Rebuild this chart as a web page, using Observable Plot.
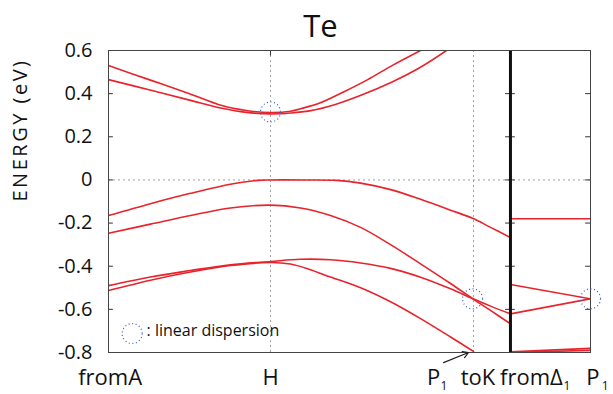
<!DOCTYPE html>
<html>
<head>
<meta charset="utf-8">
<script src="https://cdn.jsdelivr.net/npm/d3@7"></script>
<script src="https://cdn.jsdelivr.net/npm/@observablehq/plot@0.6"></script>
<style>
  html, body { margin: 0; padding: 0; background: #fff; }
  #chart { width: 613px; height: 394px; }
</style>
</head>
<body>
<div id="chart"></div>
<script>
// k-path positions (H = 1)
const kA = 0, kH = 1, kP1 = 2.253, kK = 2.481, kEnd = 2.975;

// Energy ticks
const yTicks = [-0.8, -0.6, -0.4, -0.2, 0, 0.2, 0.4, 0.6];

// x labels (text, k position, anchor)
const xLabelText   = ["fromA", "H", "P", "toK", "fromΔ", "P"];
const xLabelPos    = [0.01, 1, 2.006, 2.28, 2.417, 2.99];
const xLabelAnchor = ["middle", "middle", "middle", "middle", "start", "middle"];
const xSubText = ["1", "1", "1"];
const xSubPos  = [2.07, 2.83, 3.065];

// Bands, A -> H -> P1 -> K  ([k, E(eV)])
const cbUpper = [[0,0.53],[0.25,0.465],[0.5,0.4],[0.7,0.345],[0.85,0.322],[1,0.312],[1.123,0.318],[1.185,0.33],[1.30,0.355],[1.457,0.41],[1.60,0.465],[1.75,0.53],[1.926,0.60]];
const cbLower = [[0,0.465],[0.25,0.418],[0.5,0.37],[0.7,0.332],[0.85,0.313],[1,0.306],[1.123,0.31],[1.241,0.32],[1.40,0.35],[1.55,0.39],[1.747,0.453],[1.92,0.52],[2.086,0.60]];
const vb1 = [[0,-0.165],[0.259,-0.11],[0.506,-0.062],[0.753,-0.02],[0.92,-0.002],[1,0],[1.2,0],[1.407,-0.002],[1.556,-0.015],[1.741,-0.045],[1.926,-0.09],[2.111,-0.14],[2.247,-0.178],[2.358,-0.22],[2.481,-0.267]];
const vb2 = [[0,-0.247],[0.259,-0.205],[0.506,-0.165],[0.753,-0.13],[1,-0.117],[1.185,-0.13],[1.37,-0.165],[1.556,-0.22],[1.741,-0.30],[1.926,-0.389],[2.111,-0.48],[2.247,-0.55],[2.358,-0.605],[2.481,-0.667]];
const vb3 = [[0,-0.49],[0.259,-0.45],[0.506,-0.42],[0.753,-0.393],[1,-0.378],[1.185,-0.368],[1.37,-0.37],[1.556,-0.385],[1.741,-0.41],[1.926,-0.451],[2.111,-0.505],[2.247,-0.55],[2.358,-0.585],[2.481,-0.621]];
const vb4 = [[0,-0.513],[0.259,-0.465],[0.506,-0.427],[0.753,-0.397],[1,-0.383],[1.123,-0.39],[1.241,-0.415],[1.37,-0.45],[1.556,-0.5],[1.741,-0.565],[1.926,-0.643],[2.111,-0.728],[2.253,-0.795]];

// Bands, Δ -> P1 panel
const dFlat  = [[2.481,-0.18],[2.975,-0.18]];
const dDown  = [[2.481,-0.485],[2.975,-0.551]];
const dUp    = [[2.481,-0.621],[2.975,-0.551]];
const dLow1  = [[2.481,-0.797],[2.975,-0.781]];
const dLow2  = [[2.481,-0.80],[2.975,-0.79]];

// linear-dispersion markers
const circleK = [1, 2.247, 2.975];
const circleE = [0.315, -0.551, -0.551];

// legend
const legendK = 0.146, legendE = -0.712, legendTextK = 0.235, legendTextE = -0.698;
const legendText = ": linear dispersion";

// arrow to P1
const arrowFrom = [2.068, -0.847], arrowTo = [2.222, -0.80];

const bandsLeft = [cbUpper, cbLower, vb1, vb2, vb3, vb4];
const bandsRight = [dFlat, dDown, dUp, dLow1, dLow2];
const table = [...bandsLeft, ...bandsRight].flatMap((pts, i) => pts.map(([k, e]) => ({band: i, k, e})));
const circles = circleK.map((k, i) => ({k, e: circleE[i]}));
const xLabels = xLabelText.map((t, i) => ({t, k: xLabelPos[i], a: xLabelAnchor[i]}));
const xSubs = xSubText.map((t, i) => ({t, k: xSubPos[i]}));
const fmt = d => d === 0 ? "0" : d.toFixed(1);

const red = "#e8232b";
const labelStyle = {frameAnchor: "bottom", lineAnchor: "bottom", dy: 32, fontSize: 22, fill: "#111"};

const plot = Plot.plot({
  width: 613,
  height: 394,
  marginLeft: 108,
  marginRight: 23,
  marginTop: 50,
  marginBottom: 42,
  style: {fontFamily: "'Open Sans', sans-serif", background: "#fff", color: "#111"},
  x: {domain: [kA, kEnd], axis: null},
  y: {domain: [-0.8, 0.6], axis: null},
  marks: [
    // grid
    Plot.ruleY([0], {stroke: "#888", strokeDasharray: "2,3", strokeWidth: 0.8}),
    Plot.ruleX([kH, kP1], {stroke: "#888", strokeDasharray: "2,3", strokeWidth: 0.8}),
    // inward ticks
    Plot.ruleY(yTicks, {x1: kA, x2: kA + 0.03, stroke: "#333"}),
    Plot.ruleY(yTicks, {x1: kK - 0.03, x2: kK + 0.03, stroke: "#333"}),
    Plot.ruleY(yTicks, {x1: kEnd - 0.03, x2: kEnd, stroke: "#333"}),
    Plot.ruleX([kH], {y1: 0.6, y2: 0.575, stroke: "#333"}),
    // bands
    Plot.line(table, {x: "k", y: "e", z: "band", stroke: red, strokeWidth: 1.6, curve: "catmull-rom", clip: true}),
    // thick separator
    Plot.ruleX([kK], {stroke: "#111", strokeWidth: 3}),
    Plot.frame({stroke: "#444", strokeWidth: 1}),
    // circles
    Plot.dot(circles, {x: "k", y: "e", r: 10, stroke: "#3a5fc8", strokeWidth: 1.2, strokeDasharray: "1,2.6", fill: "none"}),
    // legend
    Plot.dot([0], {x: () => legendK, y: () => legendE, r: 10, stroke: "#3a5fc8", strokeWidth: 1.2, strokeDasharray: "1,2.6", fill: "none"}),
    Plot.text([legendText], {x: () => legendTextK, y: () => legendTextE, text: d => d, textAnchor: "start", fontSize: 16, fill: "#111"}),
    // arrow
    Plot.arrow([0], {x1: () => arrowFrom[0], y1: () => arrowFrom[1], x2: () => arrowTo[0], y2: () => arrowTo[1], stroke: "#222", strokeWidth: 1.2, headLength: 8, clip: false}),
    // y tick labels
    Plot.text(yTicks, {x: () => kA, y: d => d, text: fmt, textAnchor: "end", dx: -16, fontSize: 20, fill: "#111"}),
    // y axis title
    Plot.text(["ENERGY (eV)"], {frameAnchor: "left", dx: -88, rotate: -90, fontSize: 20, fill: "#111"}),
    // x labels
    Plot.text(xLabels.filter(d => d.a === "middle"), {x: "k", text: "t", textAnchor: "middle", ...labelStyle}),
    Plot.text(xLabels.filter(d => d.a === "start"), {x: "k", text: "t", textAnchor: "start", ...labelStyle}),
    Plot.text(xSubs, {x: "k", text: "t", frameAnchor: "bottom", lineAnchor: "bottom", dy: 37, fontSize: 12, fill: "#111"}),
    // title
    Plot.text(["Te"], {frameAnchor: "top", dx: -29, dy: -14, lineAnchor: "bottom", fontSize: 31, fill: "#111"})
  ]
});

d3.select(plot).selectAll("text")
  .filter(function() { return this.textContent === "ENERGY (eV)"; })
  .style("letter-spacing", "2.5px");

document.getElementById("chart").appendChild(plot);
</script>
</body>
</html>
